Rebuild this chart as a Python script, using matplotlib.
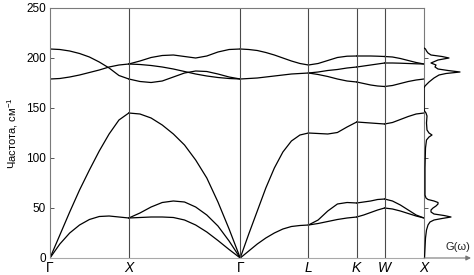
import numpy as np
import matplotlib.pyplot as plt

plt.rcParams['font.family'] = ['Liberation Sans', 'DejaVu Sans']
plt.rcParams['mathtext.fontset'] = 'custom'
plt.rcParams['mathtext.rm'] = 'Liberation Sans'

# high-symmetry points along the FCC path
k_labels = ['Γ', 'X', 'Γ', 'L', 'K', 'W', 'X']
k_pos = [0, 1.0, 2.414, 3.280, 3.892, 4.246, 4.746]

# branch values read along each segment (cm^-1)
# Γ -> X
gx_frac = [0, .125, .25, .375, .5, .625, .75, .875, 1]
gx_ta = [0, 14, 25, 33, 38.5, 41.5, 42, 41, 40]
gx_la = [0, 23, 46, 68, 88, 107, 124, 138, 145]
gx_to = [179, 179.5, 181, 183, 185.5, 188, 191, 193, 194]
gx_lo = [209, 208.5, 207, 204.5, 201, 196, 190, 182.5, 179]

# X -> Γ
xg_frac = [0, .1, .2, .3, .4, .5, .6, .7, .8, .9, 1]
xg_ta1 = [40, 40.5, 41, 41, 40.5, 38, 33, 26, 17.5, 8.5, 0]
xg_ta2 = [40, 45, 51, 55.5, 57, 56, 51, 43, 32, 17, 0]
xg_la = [145, 144, 140, 133, 124, 113, 98, 80, 56, 29, 0]
xg_o1 = [179, 176.5, 175.5, 177, 181, 185, 187, 186.5, 184, 181, 179]
xg_o2 = [194, 193.5, 192.5, 191, 189, 186.5, 184, 182, 180.5, 179.5, 179]
xg_o3 = [194, 197, 200.5, 202.5, 203, 201.5, 200, 202, 206, 208.5, 209]

# Γ -> L
gl_frac = [0, .125, .25, .375, .5, .625, .75, .875, 1]
gl_ta = [0, 7, 14, 20, 25, 29, 31.5, 32.5, 33]
gl_la = [0, 24, 47, 70, 90, 106, 117, 123, 125]
gl_to = [179, 179.5, 180, 181, 182, 183, 184, 184.5, 185]
gl_lo = [209, 208.5, 207.5, 205.5, 203, 200, 197, 194.5, 193]

# L -> K
lk_frac = [0, .2, .4, .6, .8, 1]
lk_ta1 = [33, 34.5, 36.5, 38.5, 40, 41]
lk_ta2 = [33, 38, 47, 54, 55.5, 55]
lk_la = [125, 124.5, 124, 125.5, 131, 136]
lk_o1 = [185, 183.5, 181.5, 179, 177, 176]
lk_o2 = [185, 186, 187.5, 188.5, 190, 191]
lk_lo = [193, 194.5, 197.5, 200.5, 201.8, 202]

# K -> W
kw_frac = [0, .25, .5, .75, 1]
kw_ta1 = [41, 43, 45.5, 48, 50]
kw_ta2 = [55, 56, 57, 58.5, 59]
kw_la = [136, 135.5, 135, 134.5, 134]
kw_o1 = [176, 174.5, 173, 172, 171.5]
kw_o2 = [191, 192, 193, 194, 195]
kw_lo = [202, 202, 202, 201.8, 201.5]

# W -> X
wx_frac = [0, .2, .4, .6, .8, 1]
wx_ta1 = [50, 49, 47, 44.5, 42, 40]
wx_ta2 = [59, 57, 53, 48, 43, 40]
wx_la = [134, 135.5, 138.5, 141.5, 144, 145]
wx_o1 = [171.5, 172.5, 174.5, 176.5, 178, 179]
wx_o2 = [195, 195, 194.8, 194.5, 194.2, 194]
wx_lo = [201.5, 201, 199.5, 197.5, 195.5, 194]

# density of states G(w), arbitrary units
dos_freq = [0, 10, 20, 28, 33, 36, 38, 39.5, 41, 42.5, 44, 46, 48, 50, 52, 54,
            55.5, 57, 58.5, 60, 63, 70, 90, 110, 118, 121, 123, 125, 128, 135,
            142, 145, 147, 150, 170, 172, 176, 180, 183, 184.5, 186, 187.5, 189,
            191, 193, 195, 198, 200, 201.5, 203, 205, 207, 209, 210]
dos_g = [0.5, 1, 1.5, 2.5, 4, 6, 10, 18, 27, 20, 10, 7, 7, 9, 12, 14,
         14, 10, 4, 2, 1, 1, 1, 1.5, 2.5, 5, 8, 5, 3, 2.5,
         3, 2, 0.5, 0, 0, 1, 5, 10, 15, 22, 36, 24, 14,
         11, 12, 7, 14, 25, 18, 7, 4, 2.5, 1.5, 0]

segments = [
    (gx_frac, [gx_ta, gx_la, gx_to, gx_lo]),
    (xg_frac, [xg_ta1, xg_ta2, xg_la, xg_o1, xg_o2, xg_o3]),
    (gl_frac, [gl_ta, gl_la, gl_to, gl_lo]),
    (lk_frac, [lk_ta1, lk_ta2, lk_la, lk_o1, lk_o2, lk_lo]),
    (kw_frac, [kw_ta1, kw_ta2, kw_la, kw_o1, kw_o2, kw_lo]),
    (wx_frac, [wx_ta1, wx_ta2, wx_la, wx_o1, wx_o2, wx_lo]),
]

fig = plt.figure(figsize=(4.74, 2.75), dpi=100)
ax = fig.add_axes([50/474, 17/275, 374/474, 250/275])

for i, (frac, branches) in enumerate(segments):
    x = k_pos[i] + np.array(frac) * (k_pos[i+1] - k_pos[i])
    for b in branches:
        ax.plot(x, b, color='black', lw=0.9)

for kp in k_pos[1:-1]:
    ax.axvline(kp, color='#4a4a4a', lw=0.8)

ax.set_xlim(k_pos[0], k_pos[-1])
ax.set_ylim(0, 250)
ax.set_yticks([0, 50, 100, 150, 200, 250])
ax.tick_params(axis='y', direction='in', length=3, width=0.7, color='#555555',
               labelsize=8.5, pad=3)
ax.set_xticks(k_pos, k_labels)
ax.tick_params(axis='x', length=0, labelsize=10, pad=2)
for lab in ax.get_xticklabels():
    if lab.get_text() != 'Γ':
        lab.set_fontstyle('italic')

for side in ['left', 'top', 'right']:
    ax.spines[side].set_color('#7a7a7a')
    ax.spines[side].set_linewidth(0.8)
ax.spines['bottom'].set_color('#a8a8a8')
ax.spines['bottom'].set_linewidth(0.8)
ax.set_ylabel('Частота, см$^{-1}$', fontsize=8, labelpad=4)

# DOS panel
ax2 = fig.add_axes([424/474, 17/275, 50/474, 250/275])
ax2.plot(dos_g, dos_freq, color='black', lw=0.9)
ax2.set_xlim(0, 50)
ax2.set_ylim(0, 250)
for side in ax2.spines:
    ax2.spines[side].set_visible(False)
ax2.set_xticks([])
ax2.set_yticks([50, 100, 150, 200])
ax2.tick_params(axis='y', direction='in', length=3, width=0.7, color='#555555',
                labelleft=False)
ax2.patch.set_alpha(0)
ax2.annotate('', xy=(47, 0), xytext=(0, 0),
             arrowprops=dict(arrowstyle='-|>', color='#777777', lw=0.8,
                             mutation_scale=7, shrinkA=0, shrinkB=0),
             annotation_clip=False)
ax2.text(34, 11, 'G(ω)', ha='center', va='center', fontsize=8, color='#222222')

fig.savefig('out.png', dpi=100)
